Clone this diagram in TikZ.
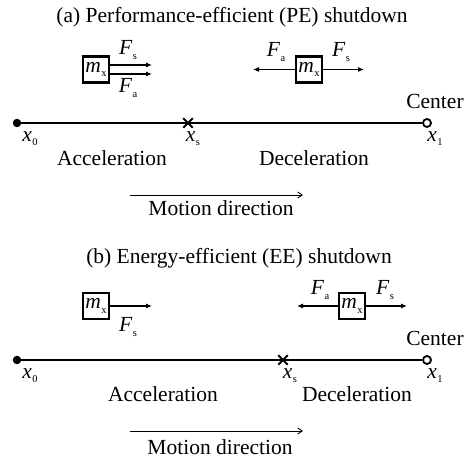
\documentclass[tikz,border=0pt]{standalone}
\usepackage{fontspec}
\setmainfont{Liberation Serif}
\usetikzlibrary{arrows.meta,shapes.misc}

% italic symbol with a small upright subscript
\newcommand{\symsub}[2]{\textit{#1}\kern0.5pt\raisebox{-4.3pt}{\fontsize{10.5}{11}\selectfont #2}}

\begin{document}
\begin{tikzpicture}[x=1pt,y=-1pt,
  every node/.style={inner sep=0pt,font=\fontsize{21.5}{24}\selectfont},
  mass/.style={draw,line width=2.2pt,minimum width=26pt,minimum height=26pt,inner sep=0pt},
  force/.style={line width=1.1pt,-{Latex[length=6pt,width=5pt]}},
  motion/.style={line width=0.9pt,-{Straight Barb[length=4.5pt,width=6pt]}},
  track/.style={line width=2.2pt},
  startpt/.style={circle,fill,minimum size=8.5pt},
  endpt/.style={circle,draw,fill=white,line width=1.8pt,minimum size=8pt},
  switchpt/.style={cross out,draw,line width=2pt,minimum size=7.5pt}]
\useasboundingbox (0,0) rectangle (464,462);

% ---------------- (a) performance-efficient shutdown ----------------
\node (ta) at (232,17.5) {(a) Performance-efficient (PE) shutdown};

\node[mass] (ma1) at (96,69.5) {\symsub{m}{x}};
\coordinate (fa1s) at (152,65);
\coordinate (fa1a) at (152,74);
\draw[force] (ma1.east |- fa1s) -- (fa1s);
\draw[force] (ma1.east |- fa1a) -- (fa1a);
\node (lfa1s) at (128,50) {\symsub{F}{s}};
\node (lfa1a) at (128,88) {\symsub{F}{a}};

\node[mass] (ma2) at (309,69.5) {\symsub{m}{x}};
\coordinate (fa2a) at (253,69.5);
\coordinate (fa2s) at (364,69.5);
\draw[force] (ma2.west) -- (fa2a);
\draw[force] (ma2.east) -- (fa2s);
\node (lfa2a) at (276,52) {\symsub{F}{a}};
\node (lfa2s) at (341,52) {\symsub{F}{s}};

\node (ca) at (435,101) {Center};

\node[startpt] (pa0) at (17,123) {};
\node[endpt] (pa1) at (427,123) {};
\draw[track] (pa0.center) -- (pa1);
\node[switchpt] (pas) at (188,123) {};

\node (xa0) at (30,138.5) {\symsub{x}{0}};
\node (xas) at (193,138.5) {\symsub{x}{s}};
\node (xa1) at (435,138.5) {\symsub{x}{1}};

\node (acca) at (112,158) {Acceleration};
\node (deca) at (314,158) {Deceleration};

\coordinate (mva0) at (130,195);
\coordinate (mva1) at (303,195);
\draw[motion] (mva0) -- (mva1);
\node (mvta) at (221,208.5) {Motion direction};

% ---------------- (b) energy-efficient shutdown ----------------
\node (tb) at (239,258) {(b) Energy-efficient (EE) shutdown};

\node[mass] (mb1) at (96,306) {\symsub{m}{x}};
\coordinate (fb1s) at (152,306);
\draw[force] (mb1.east) -- (fb1s);
\node (lfb1s) at (128,327) {\symsub{F}{s}};

\node[mass] (mb2) at (352,306) {\symsub{m}{x}};
\coordinate (fb2a) at (297,306);
\coordinate (fb2s) at (407,306);
\draw[force] (mb2.west) -- (fb2a);
\draw[force] (mb2.east) -- (fb2s);
\node (lfb2a) at (320,290) {\symsub{F}{a}};
\node (lfb2s) at (385,290) {\symsub{F}{s}};

\node (cb) at (435,338) {Center};

\node[startpt] (pb0) at (17,360) {};
\node[endpt] (pb1) at (427,360) {};
\draw[track] (pb0.center) -- (pb1);
\node[switchpt] (pbs) at (283,360) {};

\node (xb0) at (30,375.5) {\symsub{x}{0}};
\node (xbs) at (290,375.5) {\symsub{x}{s}};
\node (xb1) at (435,375.5) {\symsub{x}{1}};

\node (accb) at (163,394) {Acceleration};
\node (decb) at (357,394) {Deceleration};

\coordinate (mvb0) at (130,431);
\coordinate (mvb1) at (303,431);
\draw[motion] (mvb0) -- (mvb1);
\node (mvtb) at (220,447.5) {Motion direction};
\end{tikzpicture}
\end{document}
